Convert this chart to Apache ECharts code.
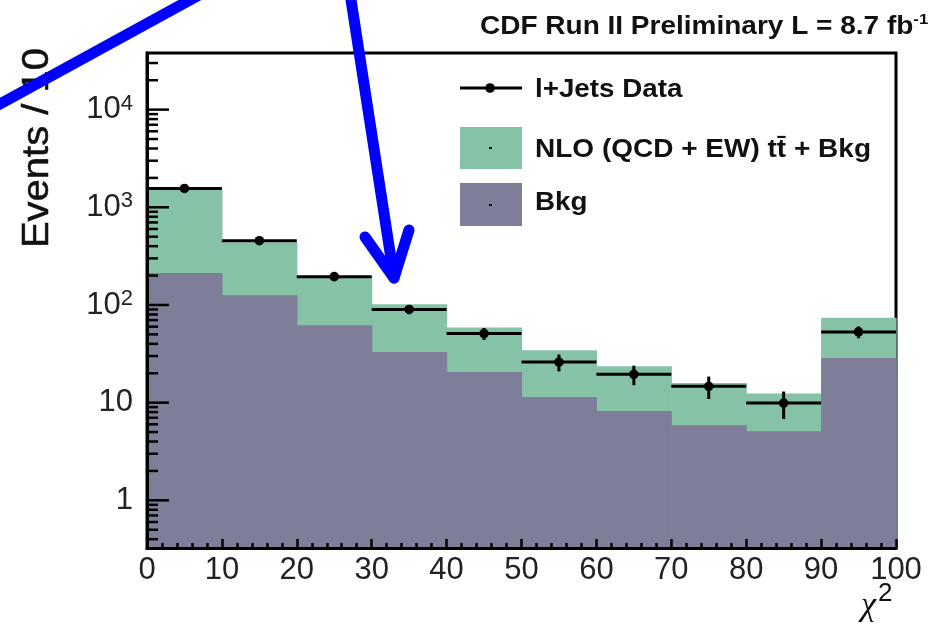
<!DOCTYPE html>
<html>
<head>
<meta charset="utf-8">
<script src="https://cdn.jsdelivr.net/npm/echarts@6/dist/echarts.min.js"></script>
<style>
  html, body { margin: 0; padding: 0; background: #fff; }
  #chart { width: 941px; height: 628px; }
</style>
</head>
<body>
<div id="chart"></div>
<script>
// chi^2 bins, width 10
const binEdges = [0, 10, 20, 30, 40, 50, 60, 70, 80, 90, 100];
// l+Jets data: events per bin and their errors
const dataCounts = [1560, 455, 195, 90, 51, 26, 19.5, 14.7, 9.9, 53];
const dataErrors = [39.5, 21.3, 14, 9.5, 7.1, 5.1, 4.4, 3.8, 3.1, 7.3];
// NLO (QCD + EW) ttbar + background prediction (stacked total)
const nloPlusBkg = [1500, 440, 197, 102, 58.8, 34.4, 23.6, 15.9, 12.4, 73.8];
// background only
const bkgOnly = [213, 126, 62, 33, 20.6, 11.4, 8.2, 5.87, 5.1, 28.7];
// y axis range and labelled decades
const yMin = 0.325, yMax = 38000;
const yDecades = [1, 10, 100, 1000, 10000];

const FONT = "'Liberation Sans', Arial, sans-serif";
const GREEN = '#86c2a5';
const SLATE = '#7f7e99';

// y ticks: majors at each decade, minors at 2..9 x decade
const yTicks = [];
for (let e = -1; e <= 4; e++) {
  for (let m = 1; m <= 9; m++) {
    const v = m * Math.pow(10, e);
    if (v >= yMin && v <= yMax) yTicks.push([v, m === 1 ? 1 : 0]);
  }
}

function stepFill(name, values, color, z) {
  return {
    name, type: 'custom', z, silent: true,
    data: values.map((v, i) => [binEdges[i], binEdges[i + 1], v]),
    encode: { x: [0, 1], y: 2 },
    renderItem(params, api) {
      const p0 = api.coord([api.value(0), api.value(2)]);
      const p1 = api.coord([api.value(1), api.value(2)]);
      const cs = params.coordSys;
      const bottom = cs.y + cs.height;
      return {
        type: 'rect',
        shape: { x: p0[0], y: p0[1], width: p1[0] - p0[0] + 0.6, height: bottom - p0[1] },
        style: { fill: color }
      };
    }
  };
}

const chart = echarts.init(document.getElementById('chart'), null, { renderer: 'canvas' });

chart.setOption({
  animation: false,
  backgroundColor: '#fff',
  grid: {
    left: 147, right: 45, top: 53, bottom: 80,
    show: true, borderColor: '#000', borderWidth: 3, backgroundColor: 'transparent'
  },
  xAxis: {
    type: 'value', min: 0, max: 100, interval: 10, z: 10,
    axisLine: { show: true, lineStyle: { color: '#000', width: 3 } },
    axisTick: { show: true, inside: true, length: 9, lineStyle: { color: '#000', width: 2.5 } },
    minorTick: { show: true, splitNumber: 5, length: 5, lineStyle: { color: '#000', width: 2.5 } },
    axisLabel: { fontSize: 31, fontFamily: FONT, color: '#222', margin: 7 },
    splitLine: { show: false }
  },
  yAxis: {
    type: 'log', logBase: 10, min: yMin, max: yMax, z: 10,
    axisLine: { show: true, lineStyle: { color: '#000', width: 3 } },
    axisTick: { show: false },
    splitLine: { show: false },
    axisLabel: {
      fontFamily: FONT, color: '#222', fontSize: 31, margin: 14,
      showMinLabel: false, showMaxLabel: false,
      formatter(v) {
        const l = Math.log10(v);
        const e = Math.round(l);
        if (Math.abs(l - e) > 1e-6 || yDecades.indexOf(Math.pow(10, e)) < 0) return '';
        if (e === 0) return '{b|1}';
        if (e === 1) return '{b|10}';
        return '{b|10}{s|' + e + '}';
      },
      rich: {
        b: { fontSize: 31, fontFamily: FONT, color: '#222' },
        s: { fontSize: 22, fontFamily: FONT, color: '#222', padding: [0, 0, 12, 0] }
      }
    }
  },
  series: [
    stepFill('NLO (QCD + EW) tt + Bkg', nloPlusBkg, GREEN, 2),
    stepFill('Bkg', bkgOnly, SLATE, 3),
    {
      name: 'y ticks', type: 'custom', z: 5, silent: true,
      data: yTicks,
      encode: { y: 0 },
      renderItem(params, api) {
        const cs = params.coordSys;
        const y = api.coord([0, api.value(0)])[1];
        const len = api.value(1) ? 22 : 11;
        return {
          type: 'line',
          shape: { x1: cs.x, y1: y, x2: cs.x + len, y2: y },
          style: { stroke: '#000', lineWidth: 2.5 }
        };
      }
    },
    {
      name: 'l+Jets Data', type: 'custom', z: 6, silent: true,
      data: dataCounts.map((v, i) => [binEdges[i], binEdges[i + 1], v, dataErrors[i]]),
      encode: { x: [0, 1], y: 2 },
      renderItem(params, api) {
        const x0 = api.value(0), x1 = api.value(1), v = api.value(2), e = api.value(3);
        const xc = (x0 + x1) / 2;
        const a = api.coord([x0, v]), b = api.coord([x1, v]);
        const lo = api.coord([xc, v - e]), hi = api.coord([xc, v + e]);
        const c = api.coord([xc, v]);
        return {
          type: 'group',
          children: [
            { type: 'line', shape: { x1: a[0], y1: a[1], x2: b[0], y2: b[1] }, style: { stroke: '#000', lineWidth: 3 } },
            { type: 'line', shape: { x1: lo[0], y1: lo[1], x2: hi[0], y2: hi[1] }, style: { stroke: '#000', lineWidth: 3 } },
            { type: 'circle', shape: { cx: c[0], cy: c[1], r: 4.8 }, style: { fill: '#000' } }
          ]
        };
      }
    }
  ],
  graphic: [
    // title
    {
      type: 'text', x: 480, y: 27, scaleX: 1.12, z: 20,
      style: {
        text: '{b|CDF Run II Preliminary L = 8.7 fb}{s|-1}',
        verticalAlign: 'middle', align: 'left',
        rich: {
          b: { fontSize: 25, fontWeight: 'bold', fontFamily: FONT, fill: '#111' },
          s: { fontSize: 15, fontWeight: 'bold', fontFamily: FONT, fill: '#111', padding: [0, 0, 14, 0] }
        }
      }
    },
    // legend
    { type: 'line', z: 20, shape: { x1: 460, y1: 88, x2: 522, y2: 88 }, style: { stroke: '#000', lineWidth: 3 } },
    { type: 'circle', z: 20, shape: { cx: 490, cy: 88, r: 4.8 }, style: { fill: '#000' } },
    { type: 'rect', z: 20, shape: { x: 460, y: 127, width: 62, height: 42 }, style: { fill: GREEN } },
    { type: 'rect', z: 21, shape: { x: 489, y: 147, width: 3, height: 2 }, style: { fill: '#000' } },
    { type: 'rect', z: 20, shape: { x: 460, y: 183, width: 62, height: 43 }, style: { fill: SLATE } },
    { type: 'rect', z: 21, shape: { x: 489, y: 204, width: 3, height: 2 }, style: { fill: '#000' } },
    { type: 'text', x: 535, y: 90, scaleX: 1.11, z: 20,
      style: { text: 'l+Jets Data', font: 'bold 25px ' + FONT, fill: '#111', verticalAlign: 'middle' } },
    { type: 'text', x: 535, y: 150, scaleX: 1.12, z: 20,
      style: { text: 'NLO (QCD + EW) tt\u0304 + Bkg', font: 'bold 25px ' + FONT, fill: '#111', verticalAlign: 'middle' } },
    { type: 'text', x: 535, y: 203, scaleX: 1.11, z: 20,
      style: { text: 'Bkg', font: 'bold 25px ' + FONT, fill: '#111', verticalAlign: 'middle' } },
    // axis titles
    { type: 'text', x: 38, y: 148, rotation: Math.PI / 2, scaleY: 0.92, z: 20,
      style: { text: 'Events / 10', font: '40px ' + FONT, fill: '#111', align: 'center', verticalAlign: 'middle',
               stroke: '#111', lineWidth: 0.6 } },
    { type: 'text', x: 861, y: 623, z: 20,
      style: { text: '\u03c7', font: 'italic 34px "Liberation Serif", serif', fill: '#111', align: 'left', verticalAlign: 'bottom' } },
    { type: 'text', x: 878, y: 581, z: 20,
      style: { text: '2', font: '26px ' + FONT, fill: '#111', align: 'left', verticalAlign: 'top' } },
    // blue annotation strokes
    { type: 'polyline', z: 30, shape: { points: [[-20, 115], [210, -11]] },
      style: { stroke: '#0000ff', lineWidth: 11, lineCap: 'round', fill: null } },
    { type: 'polyline', z: 30, shape: { points: [[349.5, -10], [394, 278]] },
      style: { stroke: '#0000ff', lineWidth: 11, lineCap: 'round', fill: null } },
    { type: 'polyline', z: 30, shape: { points: [[365, 237], [394, 278], [409, 230]] },
      style: { stroke: '#0000ff', lineWidth: 11, lineCap: 'round', lineJoin: 'round', fill: null } }
  ]
});
</script>
</body>
</html>
